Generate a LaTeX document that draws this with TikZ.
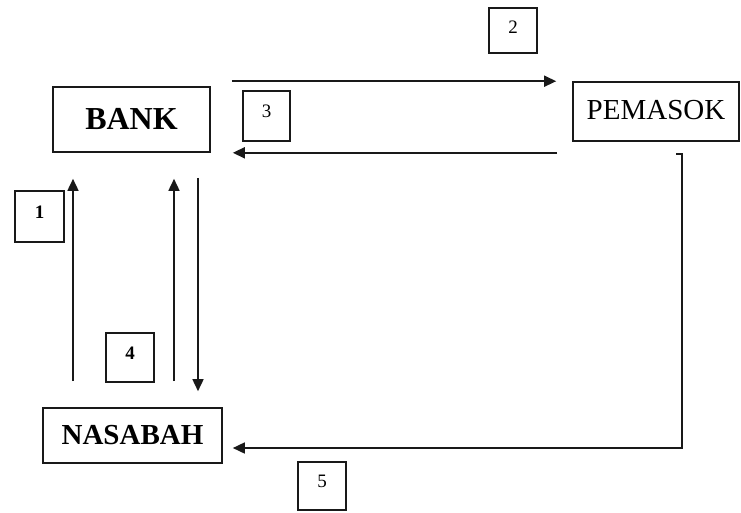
\documentclass[tikz,border=0pt]{standalone}
\usepackage{fontspec}
\setmainfont{Liberation Serif}
\usetikzlibrary{arrows.meta}
\tikzset{
  ent/.style={draw=black!90, line width=1.6pt, inner sep=0pt, fill=white},
  numbox/.style={draw=black!90, line width=1.4pt, inner sep=0pt, minimum width=48pt, minimum height=49pt, font=\fontsize{19}{19}\selectfont},
  arr/.style={draw=black!90, line width=1.6pt, -{Triangle[length=12pt,width=11pt]}},
  ln/.style={draw=black!90, line width=1.6pt}
}
\newcommand{\dig}[1]{\raisebox{-1.5pt}[0pt][0pt]{#1}}
\begin{document}
\begin{tikzpicture}[x=1pt,y=-1pt]
\useasboundingbox (0,0) rectangle (741,512);
% entities
\node[ent, minimum width=157pt, minimum height=65pt, font=\fontsize{32}{32}\selectfont\bfseries] (bank) at (131.5,119.5) {\raisebox{2pt}{BANK}};
\node[ent, minimum width=166pt, minimum height=59pt, font=\fontsize{29}{29}\selectfont] (pem) at (656,111.5) {\raisebox{3pt}{PEMASOK}};
\node[ent, minimum width=179pt, minimum height=55pt, font=\fontsize{29}{29}\selectfont\bfseries] (nas) at (132.5,435.5) {\raisebox{1pt}{NASABAH}};
% number boxes
\node[numbox, minimum width=49pt, minimum height=51pt, font=\fontsize{19}{19}\selectfont\bfseries] (n1) at (39.5,216.5) {\dig{1}};
\node[numbox, minimum height=45pt] (n2) at (513,30.5) {\raisebox{-2.5pt}[0pt][0pt]{2}};
\node[numbox, minimum width=47pt, minimum height=50pt] (n3) at (266.5,116) {\dig{3}};
\node[numbox, font=\fontsize{19}{19}\selectfont\bfseries] (n4) at (130,357.5) {\dig{4}};
\node[numbox, minimum height=48pt] (n5) at (322,486) {\dig{5}};
% connectors between BANK and NASABAH
\draw[arr, shorten <=26pt, shorten >=26pt] (nas.north west -| 73,0) -- (bank.south west -| 73,0);
\draw[arr, shorten <=26pt, shorten >=26pt] (nas.north west -| 174,0) -- (bank.south west -| 174,0);
\draw[arr, shorten <=25pt, shorten >=16pt] (bank.south west -| 198,0) -- (nas.north west -| 198,0);
% BANK <-> PEMASOK
\draw[arr, shorten <=21pt, shorten >=16pt] (bank.east |- pem.north) -- (pem.north west);
\draw[arr, shorten <=15pt, shorten >=22pt] (pem.west |- bank.south) -- (bank.south east);
% PEMASOK -> NASABAH
\coordinate (c5) at (676,154);
\draw[arr, shorten >=10pt] (c5) -- ++(6,0) |- (nas.east |- 0,448);
\end{tikzpicture}
\end{document}
